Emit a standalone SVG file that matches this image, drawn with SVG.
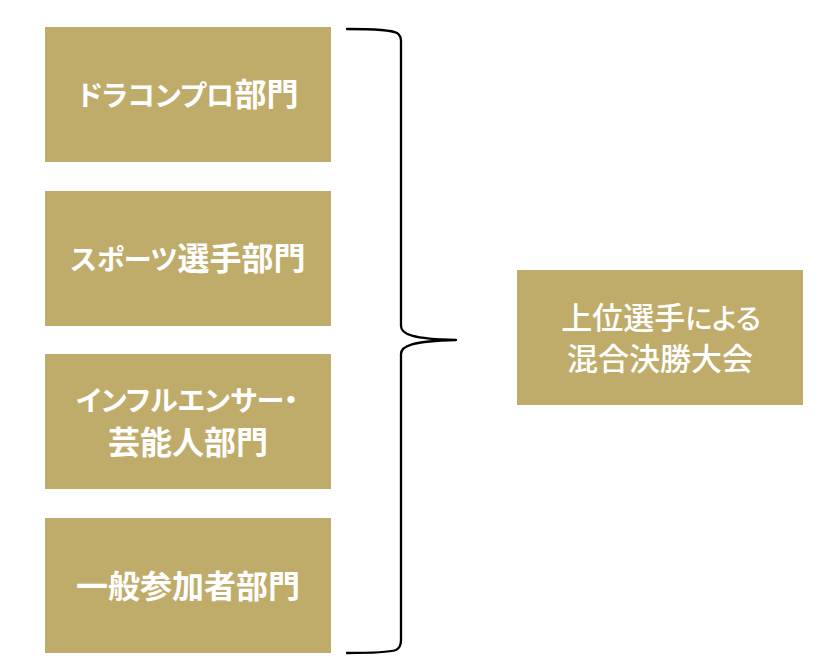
<svg xmlns="http://www.w3.org/2000/svg" width="840" height="670" viewBox="0 0 840 670">
<style>
.box{fill:#BFAC6A}
.lbl{fill:#FFFFFF;font-family:"Noto Sans CJK JP","Noto Sans CJK SC",sans-serif;font-size:32px;font-weight:700;text-anchor:middle;font-feature-settings:"palt"}
.rlbl{font-weight:500;font-size:31px}
.kana{font-size:28px}
.hira{font-size:28px}
.brace{fill:none;stroke:#000000;stroke-width:2.3;stroke-linecap:round;stroke-linejoin:round}
</style>
<rect width="840" height="670" fill="#FFFFFF"/>
<g id="node-dracon">
<rect class="box" x="45" y="27" width="286" height="135"/>
<text class="lbl" x="188" y="106"><tspan class="kana">ドラコンプロ</tspan>部門</text>
</g>
<g id="node-sports">
<rect class="box" x="45" y="191" width="286" height="135"/>
<text class="lbl" x="188" y="270"><tspan class="kana">スポーツ</tspan>選手部門</text>
</g>
<g id="node-influencer">
<rect class="box" x="45" y="354" width="286" height="135"/>
<text class="lbl" x="187" y="411"><tspan class="kana">インフルエンサー・</tspan><tspan x="188" dy="43">芸能人部門</tspan></text>
</g>
<g id="node-general">
<rect class="box" x="45" y="518" width="286" height="135"/>
<text class="lbl" x="188" y="598">一般参加者部門</text>
</g>
<g id="node-final">
<rect class="box" x="517" y="270" width="286" height="135"/>
<text class="lbl rlbl" x="661" y="329">上位選手<tspan class="hira">による</tspan><tspan x="660" dy="41">混合決勝大会</tspan></text>
</g>
<g id="connectors">
<path class="brace" d="M347,29 C375,29 392,30 397,33 C400,35 401,37 401,41 L401,326 C401,334 412,339 456,340 C412,341 401,346 401,354 L401,640 C401,645 400,648 396,650 C390,652 375,653 347,653"/>
</g>
</svg>
